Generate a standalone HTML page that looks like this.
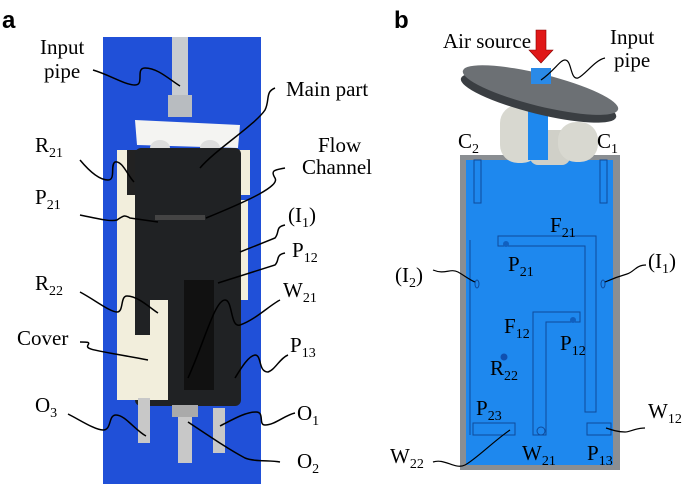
<!DOCTYPE html>
<html><head><style>
html,body{margin:0;padding:0;background:#fff;}
svg{display:block;}
text{font-family:"Liberation Serif",serif;font-size:21px;fill:#000;}
.s{font-size:14px;}
</style></head><body>
<svg width="685" height="485" viewBox="0 0 685 485" xmlns="http://www.w3.org/2000/svg">
<!-- Panel a -->
<text x="2" y="28" style="font-family:'Liberation Sans',sans-serif;font-weight:bold;font-size:24px">a</text>
<rect x="103" y="37" width="158" height="447" fill="#2050d8"/>
<rect x="172" y="37" width="16" height="62" fill="#c8ccd0"/>
<rect x="168" y="95" width="24" height="22" fill="#b8bcc0"/>
<polygon points="135,120 240,125 238,148 137,145" fill="#f4f4f2"/>
<ellipse cx="160" cy="148" rx="10" ry="8" fill="#ddd"/>
<ellipse cx="210" cy="148" rx="10" ry="8" fill="#ddd"/>
<rect x="117" y="150" width="20" height="250" fill="#f2eedc"/>
<rect x="127" y="150" width="10" height="45" fill="#222"/>
<rect x="236" y="150" width="14" height="45" fill="#f2eedc"/>
<rect x="238" y="200" width="10" height="100" fill="#f2eedc"/>
<rect x="135" y="148" width="106" height="258" rx="6" fill="#202224"/>
<rect x="150" y="300" width="18" height="100" fill="#f2eedc"/>
<rect x="118" y="335" width="50" height="65" fill="#f2eedc"/>
<rect x="184" y="280" width="30" height="110" fill="#111"/>
<rect x="155" y="215" width="50" height="5" fill="#444"/>
<rect x="138" y="398" width="12" height="45" fill="#c8c8c8"/>
<rect x="178" y="408" width="14" height="55" fill="#c8c8c8"/>
<rect x="213" y="408" width="12" height="45" fill="#c8c8c8"/>
<rect x="172" y="405" width="26" height="12" fill="#aaa"/>
<g fill="none" stroke="#000" stroke-width="1.5">
<path d="M93,70 C110,75 125,85 135,85 C145,85 135,68 145,68 C158,68 170,80 180,86"/>
<path d="M275,88 C265,92 270,100 265,110 C255,125 215,150 200,168"/>
<path d="M80,160 C90,172 100,180 108,180 C116,180 110,165 115,162 C122,160 128,176 134,182"/>
<path d="M80,215 C95,218 110,222 117,220 C124,215 125,215 130,218 L158,222"/>
<path d="M285,168 C275,170 270,170 275,178 C280,186 250,200 206,218"/>
<path d="M285,225 C275,227 280,232 275,238 L240,252"/>
<path d="M285,253 C275,255 280,260 275,265 L218,283"/>
<path d="M80,292 C95,300 110,312 117,312 C124,312 120,296 127,296 C138,296 150,308 158,313"/>
<path d="M280,300 C270,305 255,320 240,325 C230,328 233,300 225,300 C215,300 205,340 188,378"/>
<path d="M288,355 C280,358 275,370 268,372 C258,372 262,355 255,355 C248,356 240,370 235,378"/>
<path d="M80,342 C88,342 90,342 88,345 C85,350 95,350 148,360"/>
<path d="M68,414 C80,420 95,430 103,430 C112,430 108,415 116,415 C125,415 135,430 146,436"/>
<path d="M295,413 C285,415 275,425 265,425 C258,425 265,412 256,412 C245,412 232,420 220,426"/>
<path d="M280,462 C270,460 255,462 245,458 C230,450 215,440 188,422"/>
</g>
<text x="40" y="54">Input</text><text x="44" y="78">pipe</text>
<text x="286" y="96">Main part</text>
<text x="318" y="152">Flow</text><text x="302" y="174">Channel</text>
<text x="35" y="152">R<tspan class="s" dy="5">21</tspan></text>
<text x="35" y="204">P<tspan class="s" dy="5">21</tspan></text>
<text x="288" y="222">(I<tspan class="s" dy="5">1</tspan><tspan dy="-5">)</tspan></text>
<text x="292" y="257">P<tspan class="s" dy="5">12</tspan></text>
<text x="283" y="297">W<tspan class="s" dy="5">21</tspan></text>
<text x="35" y="290">R<tspan class="s" dy="5">22</tspan></text>
<text x="17" y="345">Cover</text>
<text x="290" y="352">P<tspan class="s" dy="5">13</tspan></text>
<text x="35" y="412">O<tspan class="s" dy="5">3</tspan></text>
<text x="297" y="420">O<tspan class="s" dy="5">1</tspan></text>
<text x="297" y="468">O<tspan class="s" dy="5">2</tspan></text>

<!-- Panel b -->
<text x="394" y="28" style="font-family:'Liberation Sans',sans-serif;font-weight:bold;font-size:24px">b</text>
<rect x="460" y="155" width="160" height="315" fill="#8a8e92"/>
<rect x="466" y="160" width="147" height="305" fill="#1e88ee"/>
<rect x="500" y="105" width="40" height="58" rx="18" fill="#d8d8d0"/>
<rect x="530" y="130" width="40" height="35" rx="8" fill="#d0d0c8"/>
<rect x="558" y="122" width="40" height="40" rx="18" fill="#d8d8d0"/>
<rect x="528" y="110" width="20" height="50" fill="#1e88ee"/>
<g transform="rotate(14 540 92)"><ellipse cx="540" cy="98" rx="80" ry="16" fill="#3a3e42"/><ellipse cx="540" cy="90" rx="80" ry="16" fill="#6c7074"/></g>
<rect x="531" y="68" width="20" height="16" fill="#2a8ae8"/>
<polygon points="536,30 546,30 546,50 553,50 541,63 529,50 536,50" fill="#e01818" stroke="#800" stroke-width="0.6"/>
<g fill="none" stroke="#0f4a9a" stroke-width="1">
<rect x="474" y="160" width="7" height="43"/><rect x="600" y="160" width="7" height="43"/>
<path d="M498,236 L596,236 L596,412 L585,412 L585,246 L498,246 Z"/>
<path d="M533,312 L580,312 L580,322 L546,322 L546,435 L533,435 Z"/>
<rect x="473" y="423" width="42" height="12"/>
<rect x="587" y="423" width="24" height="12"/>
<line x1="470" y1="240" x2="470" y2="435"/>
</g>
<circle cx="506" cy="244" r="3" fill="#1060c0"/><circle cx="573" cy="320" r="3" fill="#1060c0"/>
<circle cx="504" cy="357" r="3.5" fill="#1050b0"/><circle cx="541" cy="431" r="4" fill="none" stroke="#0f4a9a"/>
<ellipse cx="477" cy="284" rx="2" ry="4" fill="none" stroke="#0f4a9a"/><ellipse cx="603" cy="284" rx="2" ry="4" fill="none" stroke="#0f4a9a"/>
<g fill="none" stroke="#000" stroke-width="1.2">
<path d="M541,80 C555,70 560,60 565,60 C572,60 570,80 578,78 C585,75 595,60 605,58"/>
<path d="M433,270 C445,275 450,268 458,272 C465,276 470,280 475,282"/>
<path d="M646,265 C636,265 634,272 627,274 C620,276 614,278 605,282"/>
<path d="M433,462 C445,458 455,470 465,465 C475,460 495,440 510,430"/>
<path d="M645,428 C635,428 630,432 625,432 C618,432 612,430 606,428"/>
</g>
<text x="443" y="48">Air source</text>
<text x="610" y="44">Input</text><text x="614" y="67">pipe</text>
<text x="458" y="148">C<tspan class="s" dy="5">2</tspan></text>
<text x="597" y="148">C<tspan class="s" dy="5">1</tspan></text>
<text x="550" y="232">F<tspan class="s" dy="5">21</tspan></text>
<text x="508" y="271">P<tspan class="s" dy="5">21</tspan></text>
<text x="395" y="282">(I<tspan class="s" dy="5">2</tspan><tspan dy="-5">)</tspan></text>
<text x="648" y="268">(I<tspan class="s" dy="5">1</tspan><tspan dy="-5">)</tspan></text>
<text x="504" y="333">F<tspan class="s" dy="5">12</tspan></text>
<text x="560" y="350">P<tspan class="s" dy="5">12</tspan></text>
<text x="490" y="375">R<tspan class="s" dy="5">22</tspan></text>
<text x="476" y="415">P<tspan class="s" dy="5">23</tspan></text>
<text x="390" y="463">W<tspan class="s" dy="5">22</tspan></text>
<text x="522" y="460">W<tspan class="s" dy="5">21</tspan></text>
<text x="587" y="460">P<tspan class="s" dy="5">13</tspan></text>
<text x="648" y="418">W<tspan class="s" dy="5">12</tspan></text>
</svg>
</body></html>
